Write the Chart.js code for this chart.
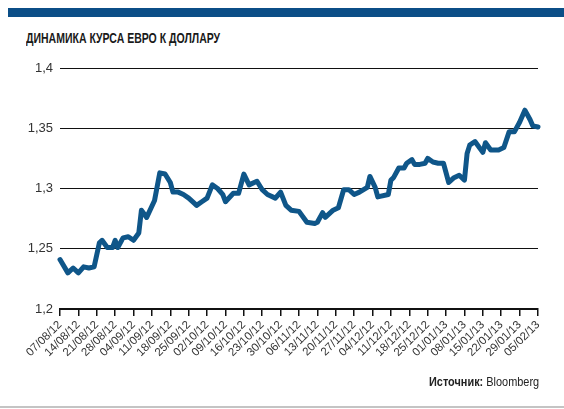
<!DOCTYPE html>
<html>
<head>
<meta charset="utf-8">
<script src="https://cdn.jsdelivr.net/npm/chart.js@4"></script>
<style>
  body { margin: 0; background: #fff; }
  #wrap { position: relative; width: 564px; height: 409px; overflow: hidden; }
  #topbar { position: absolute; left: 8px; top: 8px; right: 0; height: 9px; background: #0b4e87; }
  #title { position: absolute; left: 26px; top: 29px; font: bold 15px "Liberation Sans Narrow", "Arial Narrow", Arial, sans-serif; color: #1a1a1a; white-space: nowrap; transform: scaleX(0.7); transform-origin: left top; }
  #source { position: absolute; right: 25px; top: 374px; font: 13px "Liberation Sans Narrow", "Arial Narrow", Arial, sans-serif; color: #222; white-space: nowrap; transform: scaleX(0.84); transform-origin: right top; }
  #source b { font-weight: bold; }
  #bottomline { position: absolute; left: 0; right: 0; top: 406px; height: 2px; background: #c4c4c4; }
  canvas { position: absolute; left: 0; top: 0; }
</style>
</head>
<body>
<div id="wrap">
  <div id="topbar"></div>
  <div id="title">ДИНАМИКА КУРСА ЕВРО К ДОЛЛАРУ</div>
  <canvas id="rateChart" width="564" height="409"></canvas>
  <div id="source"><b>Источник:</b> Bloomberg</div>
  <div id="bottomline"></div>
</div>
<script>
// weekly tick labels (every 7 days from 07/08/12)
const weekLabels = ['07/08/12', '14/08/12', '21/08/12', '28/08/12', '04/09/12', '11/09/12',
    '18/09/12', '25/09/12', '02/10/12', '09/10/12', '16/10/12', '23/10/12', '30/10/12',
    '06/11/12', '13/11/12', '20/11/12', '27/11/12', '04/12/12', '11/12/12', '18/12/12',
    '25/12/12', '01/01/13', '08/01/13', '15/01/13', '22/01/13', '29/01/13', '05/02/13'];

const yTickLabels = ['1,2', '1,25', '1,3', '1,35', '1,4'];

// days since 07/08/12
const days = [0, 3, 5, 7, 9, 11, 13, 15, 16, 18, 20, 21, 22, 24, 26, 28, 30, 31, 33, 36,
    38, 40, 42, 43, 45, 47, 49, 51, 52, 54, 56, 58, 60, 62, 63, 66, 68, 70, 72, 75,
    77, 79, 82, 84, 86, 88, 91, 94, 97, 98, 100, 101, 104, 106, 108, 110, 112, 114, 117, 118,
    120, 121, 125, 126, 127, 129, 131, 132, 134, 135, 137, 139, 140, 142, 144, 146, 148, 150, 152, 154,
    155, 156, 158, 161, 162, 164, 167, 169, 171, 173, 175, 177, 179, 180, 182];

// EUR/USD
const rates = [1.241, 1.230, 1.234, 1.230, 1.235, 1.234, 1.235, 1.255, 1.257, 1.251, 1.251, 1.257, 1.251, 1.259, 1.260, 1.257, 1.263, 1.282, 1.276, 1.290,
    1.313, 1.312, 1.305, 1.297, 1.297, 1.295, 1.292, 1.288, 1.286, 1.289, 1.292, 1.303, 1.300, 1.295, 1.289, 1.296, 1.296, 1.312, 1.303, 1.306,
    1.299, 1.295, 1.292, 1.297, 1.286, 1.282, 1.281, 1.272, 1.271, 1.272, 1.280, 1.276, 1.282, 1.284, 1.299, 1.299, 1.295, 1.297, 1.301, 1.310,
    1.301, 1.293, 1.295, 1.307, 1.309, 1.317, 1.317, 1.321, 1.324, 1.320, 1.320, 1.321, 1.325, 1.322, 1.321, 1.321, 1.305, 1.309, 1.311, 1.307,
    1.329, 1.336, 1.339, 1.330, 1.338, 1.332, 1.332, 1.334, 1.347, 1.347, 1.355, 1.365, 1.357, 1.352, 1.351];

const points = days.map((d, i) => ({ x: d, y: rates[i] }));
const tickFont = { family: '"Liberation Sans Narrow", "Arial Narrow", Arial, sans-serif' };

new Chart(document.getElementById('rateChart'), {
    type: 'line',
    data: {
        datasets: [{
            data: points,
            borderColor: '#0f5689',
            borderWidth: 5,
            pointRadius: 0,
            tension: 0,
            clip: false,
            borderJoinStyle: 'round',
            borderCapStyle: 'round'
        }]
    },
    options: {
        responsive: false,
        animation: false,
        layout: { padding: { top: 68, right: 26, left: 0, bottom: 0 } },
        plugins: { legend: { display: false }, tooltip: { enabled: false } },
        scales: {
            x: {
                type: 'linear',
                min: 0,
                max: 182,
                afterFit: scale => { scale.height = 100; },
                afterBuildTicks: scale => {
                    scale.ticks = weekLabels.map((l, i) => ({ value: i * 7 }));
                },
                ticks: {
                    autoSkip: false,
                    maxRotation: 45,
                    minRotation: 45,
                    padding: 2,
                    color: '#333',
                    font: Object.assign({ size: 11.5 }, tickFont),
                    callback: (v, i) => weekLabels[i]
                },
                grid: { drawOnChartArea: false, drawTicks: true, tickLength: 7, color: '#111', lineWidth: 1.5 },
                border: { display: true, color: '#111', width: 2 }
            },
            y: {
                min: 1.2,
                max: 1.4,
                afterFit: scale => { scale.width = 60; },
                afterBuildTicks: scale => {
                    scale.ticks = yTickLabels.map((l, i) => ({ value: 1.2 + i * 0.05 }));
                },
                ticks: {
                    padding: 7,
                    color: '#333',
                    font: Object.assign({ size: 13 }, tickFont),
                    callback: (v, i) => yTickLabels[i]
                },
                grid: { drawTicks: false, color: '#111', lineWidth: 1 },
                border: { display: false }
            }
        }
    }
});
</script>
</body>
</html>
